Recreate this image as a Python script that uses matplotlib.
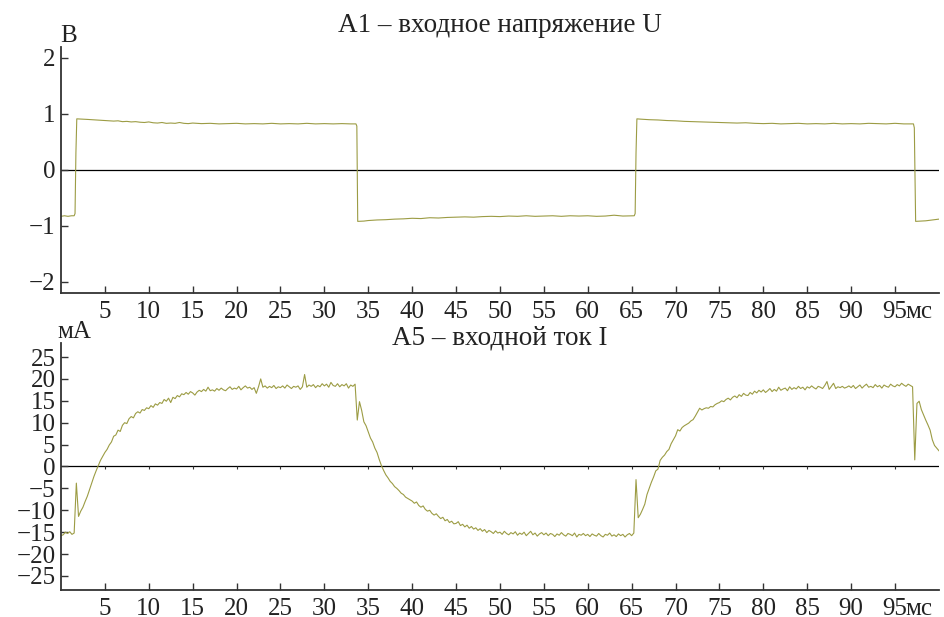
import matplotlib

matplotlib.use("Agg")
import matplotlib.pyplot as plt
import numpy as np

plt.rcParams["font.family"] = ["Liberation Serif", "DejaVu Serif"]
plt.rcParams["axes.unicode_minus"] = True

# --- data ----------------------------------------------------------------
TITLE_U = "А1 – входное напряжение U"
TITLE_I = "А5 – входной ток I"
UNIT_U = "В"
UNIT_I = "мА"
UNIT_T = "мс"

X_TICKS = [5, 10, 15, 20, 25, 30, 35, 40, 45, 50, 55, 60, 65, 70, 75, 80, 85, 90, 95]
U_TICKS = [-2, -1, 0, 1, 2]
I_TICKS = [-25, -20, -15, -10, -5, 0, 5, 10, 15, 20, 25]

# input voltage, В  (time in ms / value)
U_T = [0.0, 0.4, 0.8, 1.2, 1.5, 1.6, 1.7, 1.8,
       2.5, 3.0, 3.5, 4.0, 4.5, 5.0, 5.5, 6.0, 6.5, 7.0, 7.5, 8.0, 8.5, 9.0, 9.5,
       10.0, 10.5, 11.0, 11.5, 12.0, 12.5, 13.0, 13.5, 14.0, 14.5, 15.0,
       16, 17, 18, 19, 20, 21, 22, 23, 24, 25, 26, 27, 28, 29, 30, 31, 32, 33, 33.6,
       33.7, 33.8,
       34.5, 35, 36, 37, 38, 39, 40, 41, 42, 43, 44, 45, 46, 47, 48, 49, 50,
       51, 52, 53, 54, 55, 56, 57, 58, 59, 60, 61, 62, 63, 64, 65, 65.3,
       65.4, 65.5, 65.6,
       66, 67, 68, 69, 70, 71, 72, 73, 74, 75, 76, 77, 78, 79, 80, 81, 82, 83,
       84, 85, 86, 87, 88, 89, 90, 91, 92, 93, 94, 95, 96, 97.1,
       97.2, 97.35, 98, 98.5, 99, 99.5, 100]
U_V = [-0.83, -0.82, -0.83, -0.82, -0.82, -0.78, 0.30, 0.91,
       0.905, 0.90, 0.895, 0.89, 0.885, 0.88, 0.875, 0.87, 0.875, 0.86, 0.865, 0.855, 0.86, 0.85, 0.845,
       0.855, 0.84, 0.835, 0.845, 0.83, 0.835, 0.83, 0.845, 0.83, 0.825, 0.835,
       0.825, 0.83, 0.82, 0.825, 0.83, 0.82, 0.825, 0.82, 0.83, 0.82, 0.825, 0.82, 0.83, 0.82, 0.825, 0.82, 0.825, 0.82, 0.82,
       0.78, -0.92,
       -0.915, -0.905, -0.895, -0.89, -0.88, -0.875, -0.865, -0.87, -0.855, -0.86, -0.85, -0.845, -0.84, -0.845, -0.835, -0.83, -0.835,
       -0.825, -0.83, -0.82, -0.83, -0.825, -0.82, -0.83, -0.82, -0.825, -0.82, -0.83, -0.825, -0.81, -0.825, -0.82, -0.82,
       -0.78, 0.30, 0.91,
       0.905, 0.895, 0.89, 0.88, 0.875, 0.865, 0.86, 0.855, 0.85, 0.845, 0.84, 0.835, 0.84, 0.83, 0.825, 0.83, 0.82, 0.825,
       0.83, 0.82, 0.825, 0.82, 0.83, 0.82, 0.825, 0.82, 0.83, 0.825, 0.82, 0.83, 0.82, 0.82,
       0.75, -0.92, -0.915, -0.91, -0.90, -0.89, -0.88]

# input current, мА, sampled every 0.25 ms from 0 to 100 ms (one row = 5 ms)
I_STEP_MS = 0.25
I_MA = [
    -15.8, -15.6, -15.0, -15.3, -14.9, -15.5, -15.2, -3.8, -11.4, -10.2, -9.3, -8.0, -6.8, -5.3, -3.8, -2.3, -1.0, 0.2, 1.4, 2.3,
    3.2, 3.9, 4.9, 5.6, 6.9, 7.2, 8.3, 8.0, 9.4, 10.0, 9.8, 10.9, 11.4, 11.1, 12.1, 12.5, 12.2, 13.0, 12.8, 13.4,
    13.2, 13.9, 13.5, 14.3, 14.0, 14.6, 14.4, 15.3, 14.9, 15.6, 14.6, 15.8, 15.5, 16.2, 15.9, 16.6, 16.4, 16.9, 16.5, 17.1,
    16.8, 16.3, 17.0, 17.4, 17.1, 17.6, 17.2, 18.1, 17.3, 17.5, 17.2, 17.8, 17.4, 17.9, 17.5, 17.3, 17.8, 18.2, 17.6, 17.9,
    17.7, 18.3, 17.5, 18.0, 18.4, 17.9, 18.1, 17.6, 18.0, 16.7, 18.2, 20.0, 18.1, 18.4, 17.9, 18.3, 18.0, 18.5, 17.8, 18.2,
    18.0, 18.4, 17.9, 18.6, 18.2, 17.8, 18.3, 18.1, 18.4, 17.6, 18.2, 21.0, 18.1, 18.6, 18.3, 18.7, 18.0, 18.5, 18.2, 18.9,
    18.4, 18.8, 18.1, 19.2, 18.5, 18.3, 18.9, 18.2, 18.7, 18.4, 18.9, 17.9, 18.6, 18.3, 18.8, 10.6, 14.8, 12.8, 10.2, 9.3,
    7.9, 6.5, 5.6, 4.2, 3.2, 1.6, 0.2, -0.9, -1.9, -2.6, -3.4, -3.9, -4.6, -5.0, -5.5, -6.1, -6.4, -7.0, -7.3, -7.6,
    -7.9, -8.4, -8.1, -8.9, -9.3, -9.0, -9.8, -10.2, -10.0, -10.7, -11.1, -10.8, -11.4, -11.9, -11.6, -12.4, -12.1, -12.8, -12.5, -13.1,
    -13.0, -12.6, -13.5, -13.2, -13.8, -13.4, -14.1, -13.7, -14.3, -14.0, -14.6, -14.2, -14.8, -14.4, -15.1, -14.6, -14.9, -15.3, -14.7, -15.2,
    -15.0, -15.5, -14.8, -15.3, -15.6, -15.1, -15.4, -14.9, -15.7, -15.2, -15.5, -15.0, -15.8, -15.3, -14.8, -15.6, -15.2, -15.9, -15.4, -15.1,
    -15.6, -15.2, -15.8, -15.3, -15.5, -16.0, -15.4, -15.7, -15.1, -15.6, -15.9, -15.3, -15.5, -15.8, -15.2, -16.1, -15.5, -15.7, -15.3, -15.8,
    -15.5, -16.0, -15.4, -15.7, -15.9, -15.3, -15.8, -16.1, -15.5, -15.7, -15.2, -15.9, -15.6, -16.0, -15.4, -15.8, -15.5, -16.1, -15.6, -15.3,
    -15.8, -15.2, -3.0, -11.7, -10.9, -9.8, -8.6, -6.4, -5.0, -3.6, -2.4, -1.0, -0.6, 1.4, 2.1, 2.6, 3.4, 3.9, 5.2, 6.1,
    7.0, 8.4, 8.1, 8.9, 9.3, 9.6, 9.9, 10.4, 10.7, 11.5, 12.4, 13.3, 12.9, 13.2, 13.4, 13.3, 13.7, 13.6, 14.1, 14.4,
    14.6, 15.0, 14.8, 15.3, 15.6, 15.2, 15.8, 16.1, 15.7, 16.4, 16.0, 16.7, 16.3, 16.2, 16.9, 16.5, 17.2, 16.8, 17.4, 17.0,
    17.5, 16.9, 17.3, 17.8, 17.1, 17.6, 17.2, 18.1, 17.4, 17.7, 17.9, 17.3, 18.2, 17.6, 18.0, 17.7, 18.3, 17.8, 18.1, 17.5,
    18.2, 17.9, 18.4, 18.0, 17.7, 18.3, 18.1, 17.8, 18.5, 19.4, 17.6, 18.3, 19.0, 17.8, 18.2, 18.0, 18.3, 17.9, 18.1, 18.4,
    18.0, 18.5, 17.8, 18.2, 18.6, 17.9, 18.4, 18.8, 18.1, 18.3, 18.0, 18.7, 18.2, 18.5, 17.9, 18.6, 18.3, 18.1, 18.8, 18.4,
    18.2, 18.7, 18.4, 19.0, 18.6, 18.3, 18.8, 18.5, 18.2, 1.5, 14.4, 14.9, 13.0, 11.8, 10.6, 9.5, 8.3, 6.1, 4.8, 4.2,
    3.6,
]

# --- drawing ---------------------------------------------------------------
TRACE = "#9c9c44"
SPINE = "#333333"
TEXT = "#222222"
FS = 18
FS_TITLE = 19.5

fig = plt.figure(figsize=(9.44, 6.17), dpi=100)
ax_u = fig.add_axes([0.0646, 0.525, 0.930, 0.3995])
ax_i = fig.add_axes([0.0646, 0.0438, 0.930, 0.4003])

t_i = np.arange(len(I_MA)) * I_STEP_MS


def style_axis(ax, yticks, ylim, xpad):
    ax.set_xlim(0, 100)
    ax.set_ylim(*ylim)
    ax.set_xticks(X_TICKS)
    ax.set_yticks(yticks)
    for side in ("top", "right"):
        ax.spines[side].set_visible(False)
    for side in ("left", "bottom"):
        ax.spines[side].set_color(SPINE)
        ax.spines[side].set_linewidth(1.3)
    ax.tick_params(axis="both", direction="in", length=5, width=1.0,
                   color=SPINE, labelsize=FS, labelcolor=TEXT)
    ax.tick_params(axis="x", pad=xpad)
    ax.tick_params(axis="y", pad=4)
    ax.axhline(0, color="black", linewidth=0.9, zorder=1)
    ax.annotate(UNIT_T, xy=(0.962, 0), xycoords="axes fraction",
                xytext=(0, -xpad), textcoords="offset points",
                ha="left", va="top", fontsize=FS, color=TEXT)


ax_u.plot(U_T, U_V, color=TRACE, linewidth=0.8, zorder=2)
style_axis(ax_u, U_TICKS, (-2.2, 2.2), 5.5)
ax_u.text(0.5, 1.061, TITLE_U, transform=ax_u.transAxes, ha="center",
          va="baseline", fontsize=FS_TITLE, color=TEXT)
ax_u.text(-0.001, 1.02, UNIT_U, transform=ax_u.transAxes, ha="left",
          va="baseline", fontsize=FS, color=TEXT)

ax_i.plot(t_i, I_MA, color=TRACE, linewidth=0.8, zorder=2)
style_axis(ax_i, I_TICKS, (-28.2, 28.2), 5.5)
ax_i.vlines(X_TICKS, -0.6, 0, color=SPINE, linewidth=0.8, zorder=1)
ax_i.text(0.5, 0.992, TITLE_I, transform=ax_i.transAxes, ha="center",
          va="baseline", fontsize=FS_TITLE, color=TEXT)
ax_i.text(-0.004, 1.02, UNIT_I, transform=ax_i.transAxes, ha="left",
          va="baseline", fontsize=FS, color=TEXT)

fig.savefig("out.png", dpi=100)
